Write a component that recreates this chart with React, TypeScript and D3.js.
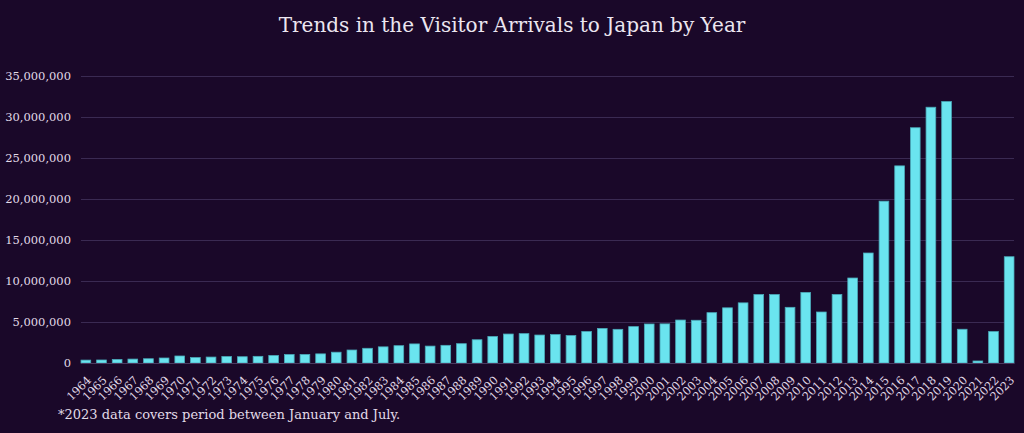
import React, { useEffect, useRef } from "react";
import * as d3 from "d3";

const years: string[] = [
  "1964","1965","1966","1967","1968","1969","1970","1971","1972","1973",
  "1974","1975","1976","1977","1978","1979","1980","1981","1982","1983",
  "1984","1985","1986","1987","1988","1989","1990","1991","1992","1993",
  "1994","1995","1996","1997","1998","1999","2000","2001","2002","2003",
  "2004","2005","2006","2007","2008","2009","2010","2011","2012","2013",
  "2014","2015","2016","2017","2018","2019","2020","2021","2022","2023",
];

const arrivals: number[] = [
  352832, 366649, 432937, 476771, 519004, 608741, 854419, 660715, 723744, 784691,
  764246, 811672, 914772, 1028140, 1038875, 1112606, 1316632, 1583043, 1793164, 1968461,
  2110346, 2327047, 2061526, 2154864, 2355412, 2835064, 3235860, 3532651, 3581540, 3410447,
  3468055, 3345274, 3837113, 4218208, 4106057, 4437863, 4757146, 4771555, 5238963, 5211725,
  6137905, 6727926, 7334077, 8346969, 8350835, 6789658, 8611175, 6218752, 8358105, 10363904,
  13413467, 19737409, 24039700, 28691073, 31191856, 31882049, 4115828, 245862, 3832110, 12960000,
];

const yTicks: number[] = [0, 5000000, 10000000, 15000000, 20000000, 25000000, 30000000, 35000000];

const title = "Trends in the Visitor Arrivals to Japan by Year";
const footnote = "*2023 data covers period between January and July.";

const W = 1024;
const H = 433;
const FONT = "'DejaVu Serif', serif";

export default function App() {
  const ref = useRef<SVGSVGElement | null>(null);

  useEffect(() => {
    document.body.style.margin = "0";
    const svg = d3.select(ref.current);
    svg.selectAll("*").remove();

    const left = 81, right = 1014, top = 76, bottom = 363;

    const x = d3.scaleBand<string>().domain(years).range([left, right]).paddingInner(0.38).paddingOuter(0);
    const y = d3.scaleLinear().domain([0, 35000000]).range([bottom, top]);

    svg.append("rect").attr("width", W).attr("height", H).attr("fill", "#1a0829");

    svg.append("text")
      .attr("x", 512).attr("y", 32)
      .attr("text-anchor", "middle")
      .attr("fill", "#ece6f0")
      .attr("font-family", FONT)
      .attr("font-size", 20)
      .text(title);

    const yAxis = d3.axisLeft(y).tickValues(yTicks).tickSize(-(right - left)).tickPadding(10)
      .tickFormat((d) => d3.format(",")(d as number));
    const gy = svg.append("g").attr("transform", `translate(${left},0)`).call(yAxis);
    gy.select(".domain").remove();
    gy.selectAll(".tick line").attr("stroke", "#3a2a52").attr("stroke-width", 1);
    gy.selectAll(".tick text")
      .attr("fill", "#e2dbe8")
      .attr("font-family", FONT)
      .attr("font-size", 11.5);

    svg.append("g").selectAll("rect")
      .data(years.map((yr, i) => ({ yr, v: arrivals[i] })))
      .join("rect")
      .attr("x", (d) => x(d.yr)!)
      .attr("y", (d) => y(d.v))
      .attr("width", x.bandwidth())
      .attr("height", (d) => bottom - y(d.v))
      .attr("fill", "#6ae4ef")
      .attr("stroke", "#4aa9b8")
      .attr("stroke-width", 0.8);

    const xAxis = d3.axisBottom(x).tickSize(0).tickPadding(0);
    const gx = svg.append("g").attr("transform", `translate(0,${bottom})`).call(xAxis);
    gx.select(".domain").attr("stroke", "#4a3a60");
    gx.selectAll(".tick text")
      .attr("fill", "#e2dbe8")
      .attr("font-family", FONT)
      .attr("font-size", 11.3)
      .attr("text-anchor", "end")
      .attr("x", 0)
      .attr("y", 0)
      .attr("dy", 0)
      .attr("transform", "translate(6,18) rotate(-45)");

    svg.append("text")
      .attr("x", 58).attr("y", 419)
      .attr("fill", "#e2dbe8")
      .attr("font-family", FONT)
      .attr("font-size", 13)
      .text(footnote);
  }, []);

  return <svg ref={ref} width={W} height={H} style={{ display: "block" }} />;
}
